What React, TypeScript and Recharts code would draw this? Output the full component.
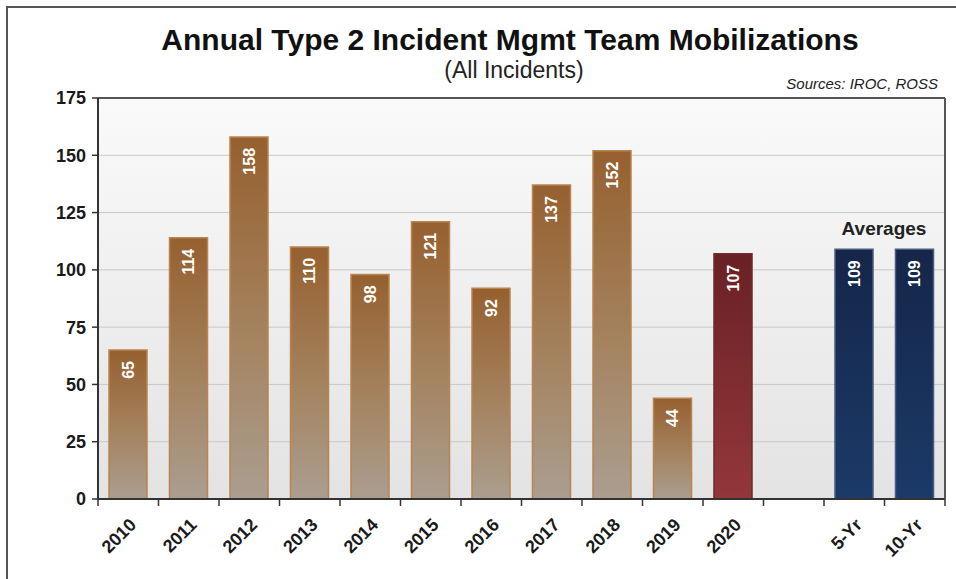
import { BarChart, Bar, XAxis, YAxis, CartesianGrid, Cell, LabelList, ReferenceLine } from 'recharts';

const categories = ['2010', '2011', '2012', '2013', '2014', '2015', '2016', '2017', '2018', '2019', '2020', '', '5-Yr', '10-Yr'];
const mobilizations = [65, 114, 158, 110, 98, 121, 92, 137, 152, 44, 107, null, 109, 109];
const yTicks = [0, 25, 50, 75, 100, 125, 150, 175];
const averageCategories = ['5-Yr', '10-Yr'];
const currentYear = '2020';

const data = categories.map((name, i) => ({ name, value: mobilizations[i] }));

const FONT = '"Liberation Sans", Arial, sans-serif';
const W = 956;
const H = 579;
const PLOT_LEFT = 98;
const PLOT_RIGHT = 945;
const HALF_BAND = (PLOT_RIGHT - PLOT_LEFT) / categories.length / 2;

function fillFor(name: string) {
  if (averageCategories.includes(name)) return 'url(#navyGrad)';
  if (name === currentYear) return 'url(#redGrad)';
  return 'url(#brownGrad)';
}

function strokeFor(name: string) {
  if (averageCategories.includes(name)) return '#4a5d7e';
  if (name === currentYear) return '#6e2a2c';
  return '#b9844f';
}

function XTick(props: any) {
  const { x, y, payload, index } = props;
  const half = payload?.offset || HALF_BAND;
  const last = index === categories.length - 1;
  return (
    <g>
      <line x1={x - half} x2={x - half} y1={y} y2={y + 7} stroke="#333" strokeWidth={1.5} />
      {last && <line x1={x + half} x2={x + half} y1={y} y2={y + 7} stroke="#333" strokeWidth={1.5} />}
      <text
        transform={`translate(${x + 9},${y + 27}) rotate(-45)`}
        textAnchor="end"
        fill="#1a1a1a"
        fontSize={18}
        fontWeight={700}
        fontFamily={FONT}
      >
        {payload.value}
      </text>
    </g>
  );
}

function BarValue(props: any) {
  const { x, y, width, value } = props;
  if (value == null) return null;
  return (
    <text
      transform={`translate(${x + width / 2},${y + 11}) rotate(-90)`}
      textAnchor="end"
      dominantBaseline="central"
      fill="#ffffff"
      fontSize={16}
      fontWeight={700}
      fontFamily={FONT}
    >
      {value}
    </text>
  );
}

export default function App() {
  return (
    <div style={{ position: 'absolute', left: 0, top: 0, width: W, height: H, background: '#fff', fontFamily: FONT, overflow: 'hidden' }}>
      <BarChart width={W} height={H} data={data} margin={{ top: 98, right: 0, bottom: 0, left: 0 }}>
        <defs>
          <linearGradient id="plotBg" x1="0" y1="0" x2="0" y2="1">
            <stop offset="0%" stopColor="#fafafa" />
            <stop offset="100%" stopColor="#e3e3e3" />
          </linearGradient>
          <linearGradient id="brownGrad" x1="0" y1="0" x2="0" y2="1">
            <stop offset="0%" stopColor="#96602f" />
            <stop offset="55%" stopColor="#a4835f" />
            <stop offset="100%" stopColor="#ab9e90" />
          </linearGradient>
          <linearGradient id="redGrad" x1="0" y1="0" x2="0" y2="1">
            <stop offset="0%" stopColor="#692126" />
            <stop offset="100%" stopColor="#933739" />
          </linearGradient>
          <linearGradient id="navyGrad" x1="0" y1="0" x2="0" y2="1">
            <stop offset="0%" stopColor="#152649" />
            <stop offset="100%" stopColor="#1b3a68" />
          </linearGradient>
        </defs>
        <CartesianGrid vertical={false} stroke="#c8c8c8" fill="url(#plotBg)" fillOpacity={1} />
        <XAxis
          dataKey="name"
          interval={0}
          tickSize={0}
          tickMargin={0}
          tickLine={false}
          axisLine={{ stroke: '#333', strokeWidth: 2 }}
          height={80}
          tick={<XTick />}
        />
        <YAxis
          domain={[0, 175]}
          ticks={yTicks}
          width={PLOT_LEFT}
          tickSize={6}
          tickMargin={6}
          tickLine={{ stroke: '#333', strokeWidth: 1.5 }}
          axisLine={{ stroke: '#333', strokeWidth: 2 }}
          tick={{ fill: '#1a1a1a', fontSize: 18, fontWeight: 700, fontFamily: FONT }}
        />
        <YAxis
          yAxisId="right"
          orientation="right"
          domain={[0, 175]}
          width={W - PLOT_RIGHT}
          tick={false}
          tickLine={false}
          axisLine={{ stroke: '#555', strokeWidth: 2 }}
        />
        <ReferenceLine y={175} stroke="#555" strokeWidth={2} ifOverflow="extendDomain" />
        <Bar dataKey="value" barSize={38} isAnimationActive={false}>
          {data.map((d) => (
            <Cell key={d.name || 'gap'} fill={fillFor(d.name)} stroke={strokeFor(d.name)} strokeWidth={1.5} />
          ))}
          <LabelList dataKey="value" content={<BarValue />} />
        </Bar>
      </BarChart>

      <div style={{ position: 'absolute', left: 6, top: 6, right: 0, bottom: 0, borderTop: '2px solid #555', borderLeft: '2px solid #555', pointerEvents: 'none' }} />
      <div style={{ position: 'absolute', left: 0, width: 1020, top: 25, textAlign: 'center', fontSize: 30, lineHeight: '30px', fontWeight: 700, color: '#111' }}>
        Annual Type 2 Incident Mgmt Team Mobilizations
      </div>
      <div style={{ position: 'absolute', left: 0, width: 1028, top: 59, textAlign: 'center', fontSize: 23, lineHeight: '23px', color: '#222' }}>
        (All Incidents)
      </div>
      <div style={{ position: 'absolute', right: 18, top: 76, fontSize: 15, lineHeight: '15px', fontStyle: 'italic', color: '#222' }}>
        Sources: IROC, ROSS
      </div>
      <div style={{ position: 'absolute', left: 834, width: 100, top: 219, textAlign: 'center', fontSize: 19, lineHeight: '19px', fontWeight: 700, color: '#222' }}>
        Averages
      </div>
    </div>
  );
}
